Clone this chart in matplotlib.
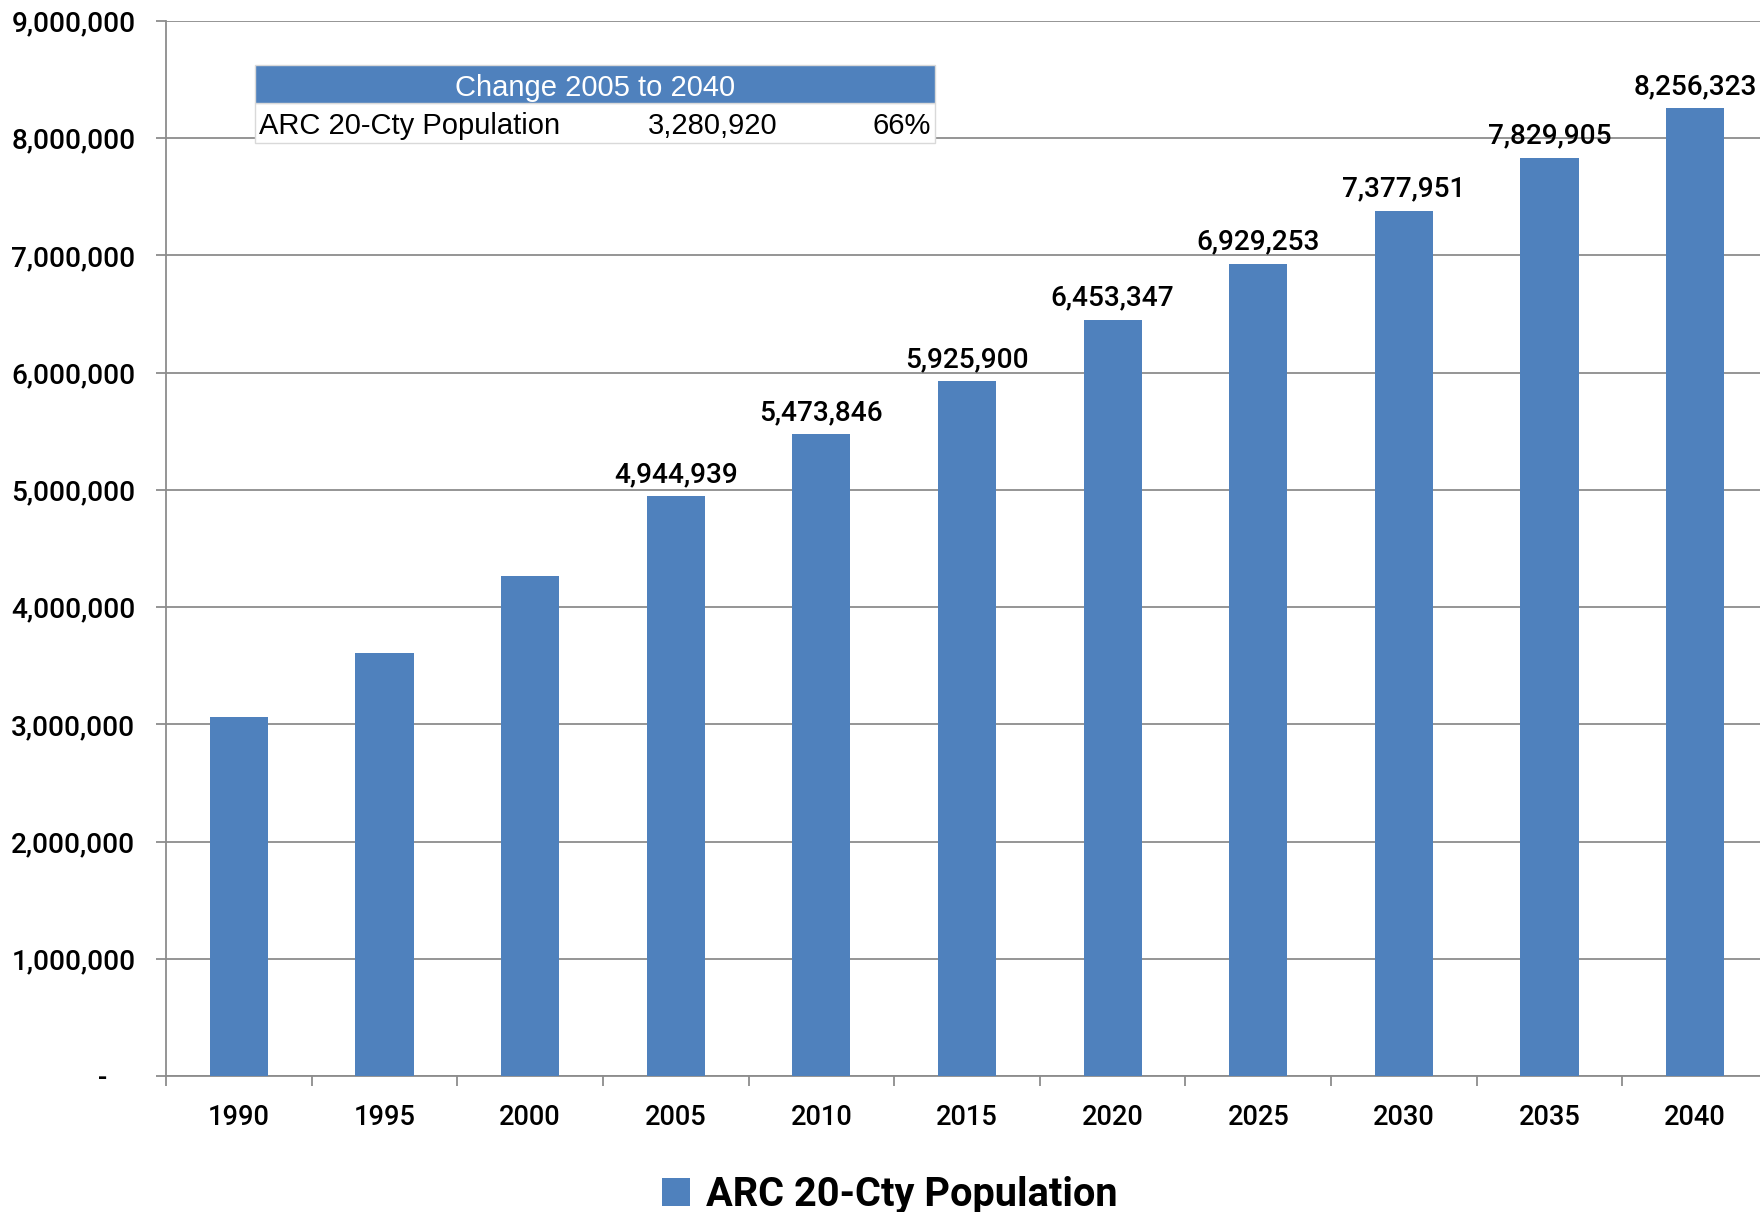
import matplotlib.pyplot as plt
from matplotlib.patches import Rectangle
from matplotlib.ticker import FuncFormatter

years = ["1990", "1995", "2000", "2005", "2010", "2015", "2020", "2025", "2030", "2035", "2040"]
population = [3065000, 3610000, 4263000, 4944939, 5473846, 5925900, 6453347,
              6929253, 7377951, 7829905, 8256323]
labeled = [False, False, False, True, True, True, True, True, True, True, True]

table_title = "Change 2005 to 2040"
table_row = ["ARC 20-Cty Population", "3,280,920", "66%"]
series_name = "ARC 20-Cty Population"

bar_color = "#4F81BD"
grid_color = "#8C8C8C"
num_font = "Roboto"
table_font = "Liberation Sans"

fig = plt.figure(figsize=(17.6, 12.12), dpi=100)
ax = fig.add_axes([166 / 1760, 1 - 1076 / 1212, 1602 / 1760, (1076 - 21) / 1212])

x = list(range(len(years)))
bars = ax.bar(x, population, width=0.4, color=bar_color, zorder=3, label=series_name)

ax.set_xlim(-0.5, len(years) - 0.5)
ax.set_ylim(0, 9000000)
ax.set_yticks(range(0, 9000001, 1000000))
ax.yaxis.set_major_formatter(FuncFormatter(lambda v, p: "-    " if v == 0 else f"{int(v):,}"))
ax.grid(axis="y", color=grid_color, linewidth=1.3, zorder=0)
ax.set_axisbelow(True)

ax.set_xticks(x)
ax.set_xticklabels(years)
ax.set_xticks([i - 0.5 for i in range(len(years) + 1)], minor=True)
ax.tick_params(axis="x", which="major", length=0, pad=20)
ax.tick_params(axis="x", which="minor", length=7, width=1.3, color=grid_color)
ax.tick_params(axis="y", length=7, width=1.3, color=grid_color, pad=15)
for lab in ax.get_yticklabels():
    lab.set_fontfamily(num_font)
    lab.set_fontweight("medium")
    lab.set_fontsize(20.2)
for lab in ax.get_xticklabels():
    lab.set_fontfamily(num_font)
    lab.set_fontweight("medium")
    lab.set_fontsize(19.6)

for s in ["top", "right"]:
    ax.spines[s].set_visible(False)
for s in ["left", "bottom"]:
    ax.spines[s].set_color(grid_color)
    ax.spines[s].set_linewidth(1.3)

for xi, v, show in zip(x, population, labeled):
    if show:
        ax.annotate(f"{v:,}", (xi, v), xytext=(0, 6), textcoords="offset points",
                    ha="center", va="bottom", fontsize=20.2, fontfamily=num_font,
                    fontweight="medium", zorder=5)

# summary table in the upper left
tx0, tx1 = 255 / 1760, 935 / 1760
hy0, hy1 = 1 - 103 / 1212, 1 - 65 / 1212
ry0 = 1 - 143 / 1212
fig.patches.append(Rectangle((tx0, ry0), tx1 - tx0, hy0 - ry0, transform=fig.transFigure,
                             facecolor="white", edgecolor="#D9D9D9", linewidth=1, zorder=4))
fig.patches.append(Rectangle((tx0, hy0), tx1 - tx0, hy1 - hy0, transform=fig.transFigure,
                             facecolor=bar_color, edgecolor="#D9D9D9", linewidth=1, zorder=4))
fig.text((tx0 + tx1) / 2, (hy0 + hy1) / 2 - 4 / 1212, table_title, ha="center", va="center",
         color="white", fontsize=21, fontfamily=table_font, zorder=6)
row_y = (ry0 + hy0) / 2 - 3 / 1212
fig.text(tx0 + 4 / 1760, row_y, table_row[0], ha="left", va="center",
         fontsize=21, fontfamily=table_font, zorder=6)
fig.text(777 / 1760, row_y, table_row[1], ha="right", va="center",
         fontsize=21, fontfamily=table_font, zorder=6)
fig.text(tx1 - 4 / 1760, row_y, table_row[2], ha="right", va="center",
         fontsize=21, fontfamily=table_font, zorder=6)

leg = fig.legend(handles=[bars], labels=[series_name], loc="center",
                 bbox_to_anchor=(890 / 1760, 1 - 1195 / 1212), frameon=False,
                 handlelength=0.7, handleheight=0.7, handletextpad=0.4,
                 prop={"family": num_font, "weight": "bold", "size": 28.6})

fig.savefig("out.png", dpi=100)
